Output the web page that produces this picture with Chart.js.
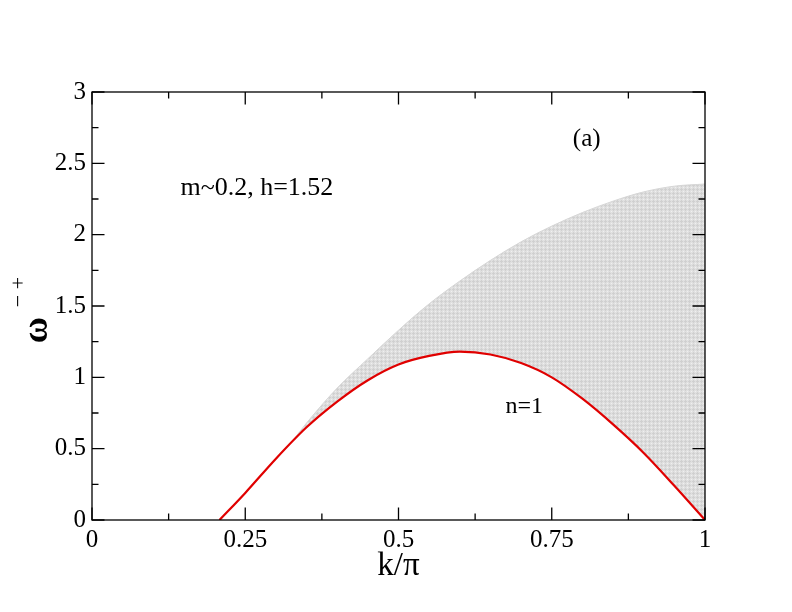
<!DOCTYPE html>
<html>
<head>
<meta charset="utf-8">
<script src="https://cdn.jsdelivr.net/npm/chart.js@4.4.1/dist/chart.umd.min.js"></script>
<style>
  html, body { margin: 0; padding: 0; background: #fff; }
  #wrap { width: 792px; height: 612px; }
</style>
</head>
<body>
<div id="wrap"><canvas id="plot" width="792" height="612"></canvas></div>
<script>
// n=1 branch (red line)
var kN1 = [0.208, 0.25, 0.30, 0.35, 0.40, 0.45, 0.50, 0.55, 0.60, 0.65, 0.70, 0.75, 0.80, 0.85, 0.90, 0.95, 1.00];
var wN1 = [0.00, 0.19, 0.43, 0.65, 0.83, 0.98, 1.09, 1.15, 1.18, 1.16, 1.10, 1.00, 0.85, 0.67, 0.47, 0.24, 0.00];

// grey continuum: upper and lower edges
var kBand = [0.33, 0.35, 0.40, 0.45, 0.50, 0.55, 0.60, 0.65, 0.70, 0.75, 0.80, 0.85, 0.90, 0.95, 1.00];
var wBandTop = [0.57, 0.68, 0.925, 1.13, 1.33, 1.515, 1.675, 1.82, 1.95, 2.06, 2.155, 2.235, 2.30, 2.34, 2.355];
var wBandLow = [0.56, 0.65, 0.83, 0.98, 1.09, 1.15, 1.18, 1.16, 1.10, 1.00, 0.85, 0.67, 0.47, 0.24, 0.00];

// ticks
var xTicks = [0, 0.25, 0.5, 0.75, 1];
var xTickLabels = ['0', '0.25', '0.5', '0.75', '1'];
var xMinor = [0.125, 0.375, 0.625, 0.875];
var yTicks = [0, 0.5, 1, 1.5, 2, 2.5, 3];
var yTickLabels = ['0', '0.5', '1', '1.5', '2', '2.5', '3'];
var yMinor = [0.25, 0.75, 1.25, 1.75, 2.25, 2.75];

function pts(xs, ys) {
  return xs.map(function (x, i) { return { x: x, y: ys[i] }; });
}

// light grey hatch, like the dense mesh of grey crosses
function greyMesh() {
  var c = document.createElement('canvas');
  c.width = 4; c.height = 4;
  var g = c.getContext('2d');
  g.fillStyle = 'rgb(224,224,224)';
  g.fillRect(0, 0, 4, 4);
  g.fillStyle = 'rgb(208,208,208)';
  g.fillRect(1, 0, 1, 3); g.fillRect(0, 1, 3, 1);
  g.fillStyle = 'rgb(240,240,240)';
  g.fillRect(3, 3, 1, 1);
  return g.createPattern(c, 'repeat');
}

var serif = '"Liberation Serif", "Times New Roman", serif';

var framePlugin = {
  id: 'frame',
  afterDraw: function (chart) {
    var ctx = chart.ctx, a = chart.chartArea;
    var xs = chart.scales.x, ys = chart.scales.y;
    ctx.save();
    ctx.strokeStyle = '#000';
    ctx.lineWidth = 1.3;
    ctx.strokeRect(a.left, a.top, a.right - a.left, a.bottom - a.top);

    function xTick(v, len) {
      var p = xs.getPixelForValue(v);
      ctx.beginPath();
      ctx.moveTo(p, a.bottom); ctx.lineTo(p, a.bottom - len);
      ctx.moveTo(p, a.top); ctx.lineTo(p, a.top + len);
      ctx.stroke();
    }
    function yTick(v, len) {
      var p = ys.getPixelForValue(v);
      ctx.beginPath();
      ctx.moveTo(a.left, p); ctx.lineTo(a.left + len, p);
      ctx.moveTo(a.right, p); ctx.lineTo(a.right - len, p);
      ctx.stroke();
    }
    xTicks.forEach(function (v) { xTick(v, 12.5); });
    xMinor.forEach(function (v) { xTick(v, 6.5); });
    yTicks.forEach(function (v) { yTick(v, 12.5); });
    yMinor.forEach(function (v) { yTick(v, 6.5); });

    // annotations
    ctx.fillStyle = '#000';
    ctx.textBaseline = 'alphabetic';
    ctx.textAlign = 'center';
    ctx.font = '26px ' + serif;
    ctx.fillText('m~0.2, h=1.52', xs.getPixelForValue(0.269), ys.getPixelForValue(2.277));
    ctx.font = '25px ' + serif;
    ctx.fillText('(a)', xs.getPixelForValue(0.807), ys.getPixelForValue(2.62));
    ctx.font = '24px ' + serif;
    ctx.fillText('n=1', xs.getPixelForValue(0.705), ys.getPixelForValue(0.752));

    // axis titles
    ctx.font = '33px ' + serif;
    ctx.fillText('k/\u03c0', (a.left + a.right) / 2, a.bottom + 55);

    ctx.translate(a.left - 54, (a.top + a.bottom) / 2 + 24);
    ctx.rotate(-Math.PI / 2);
    ctx.textBaseline = 'middle';
    ctx.font = 'bold 36px ' + serif;
    ctx.fillText('\u03c9', 0, 0);
    ctx.font = '22px ' + serif;
    ctx.fillText('\u2212 +', 38, -19);
    ctx.restore();
  }
};

new Chart(document.getElementById('plot'), {
  type: 'line',
  data: {
    datasets: [
      {
        label: 'n=1',
        data: pts(kN1, wN1),
        borderColor: '#e00000',
        borderWidth: 2.2,
        pointRadius: 0,
        fill: false,
        cubicInterpolationMode: 'monotone'
      },
      {
        label: 'band top',
        data: pts(kBand, wBandTop),
        borderColor: 'rgb(214,214,214)',
        borderWidth: 1,
        backgroundColor: greyMesh(),
        pointRadius: 0,
        fill: '+1',
        cubicInterpolationMode: 'monotone'
      },
      {
        label: 'band low',
        data: pts(kBand, wBandLow),
        borderColor: 'rgb(214,214,214)',
        borderWidth: 1,
        pointRadius: 0,
        fill: false,
        cubicInterpolationMode: 'monotone'
      }
    ]
  },
  options: {
    responsive: false,
    animation: false,
    devicePixelRatio: 1,
    layout: { padding: { left: 0, top: 92, right: 87, bottom: 0 } },
    plugins: { legend: { display: false }, tooltip: { enabled: false } },
    scales: {
      x: {
        type: 'linear',
        min: 0, max: 1,
        afterFit: function (s) { s.height = 92; },
        afterBuildTicks: function (s) { s.ticks = xTicks.map(function (v) { return { value: v }; }); },
        grid: { display: false, drawTicks: false },
        border: { display: false },
        ticks: {
          padding: 5,
          color: '#000',
          autoSkip: false,
          maxRotation: 0,
          font: { family: serif, size: 25 },
          callback: function (v, i) { return xTickLabels[i]; }
        }
      },
      y: {
        type: 'linear',
        min: 0, max: 3,
        afterFit: function (s) { s.width = 92; },
        afterBuildTicks: function (s) { s.ticks = yTicks.map(function (v) { return { value: v }; }); },
        grid: { display: false, drawTicks: false },
        border: { display: false },
        ticks: {
          padding: 6,
          color: '#000',
          autoSkip: false,
          font: { family: serif, size: 25 },
          callback: function (v, i) { return yTickLabels[i]; }
        }
      }
    }
  },
  plugins: [framePlugin]
});
</script>
</body>
</html>
